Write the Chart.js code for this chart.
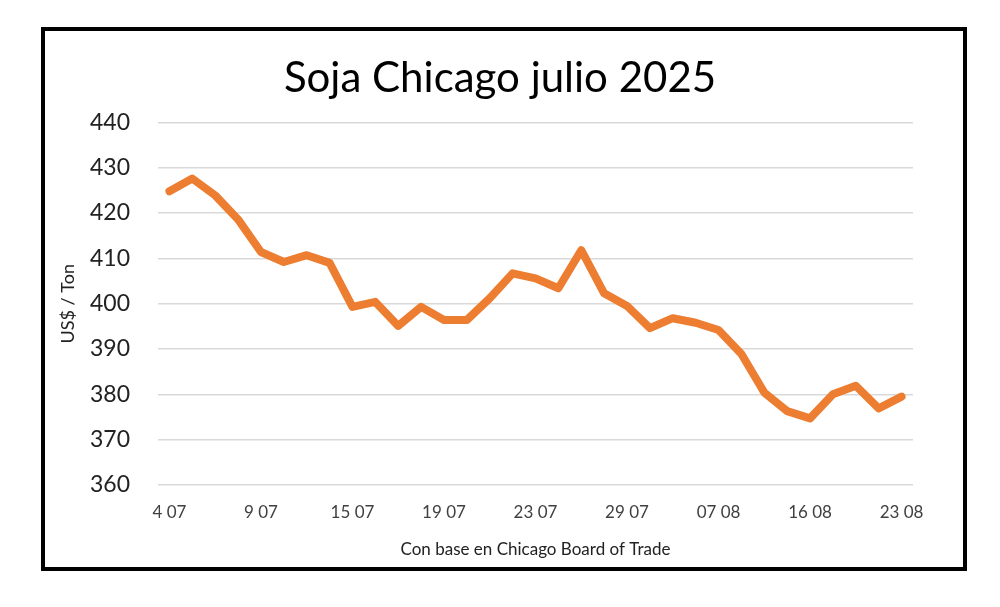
<!DOCTYPE html>
<html>
<head>
<meta charset="utf-8">
<script src="https://cdn.jsdelivr.net/npm/chart.js@4"></script>
<style>
  html, body { margin: 0; padding: 0; background: #fff; }
  #wrap { position: relative; width: 1000px; height: 607px; }
  #frame { position: absolute; left: 41px; top: 27px; width: 918px; height: 536px; border: 4px solid #000; }
  canvas { position: absolute; left: 0; top: 0; }
</style>
</head>
<body>
<div id="wrap">
  <div id="frame"></div>
  <canvas id="soja" width="1000" height="607"></canvas>
</div>
<script>
// etiquetas cada 4 ruedas, el resto en blanco
const fechas = [
  "4 07", "", "", "", "9 07", "", "", "", "15 07", "", "", "",
  "19 07", "", "", "", "23 07", "", "", "", "29 07", "", "", "",
  "07 08", "", "", "", "16 08", "", "", "", "23 08"
];
const precios = [
  424.8, 427.6, 423.9, 418.6, 411.4, 409.2, 410.7, 409.0, 399.3, 400.4, 395.1,
  399.3, 396.4, 396.4, 401.2, 406.7, 405.6, 403.4, 411.8, 402.3, 399.5, 394.6,
  396.8, 395.8, 394.2, 388.9, 380.4, 376.3, 374.7, 380.0, 381.9, 376.9, 379.5
];
const yMin = 360;
const yMax = 440;
const yStep = 10;

const fuente = "Lato, 'Open Sans', sans-serif";

new Chart(document.getElementById("soja"), {
  type: "line",
  data: {
    labels: fechas,
    datasets: [{
      label: "Soja",
      data: precios,
      borderColor: "#ED7D31",
      borderWidth: 8,
      pointRadius: 0,
      tension: 0,
      borderJoinStyle: "round",
      borderCapStyle: "round"
    }]
  },
  options: {
    responsive: false,
    animation: false,
    layout: { padding: { top: 30, left: 87, right: 87, bottom: 40 } },
    plugins: {
      legend: { display: false },
      tooltip: { enabled: false },
      title: {
        display: true,
        text: "Soja Chicago julio 2025",
        color: "#000",
        font: { family: fuente, size: 42, weight: "normal", lineHeight: 1.2 },
        padding: { top: 23, bottom: 19 }
      }
    },
    scales: {
      x: {
        offset: true,
        grid: { display: false },
        border: { display: false },
        ticks: {
          autoSkip: false,
          maxRotation: 0,
          color: "#404040",
          padding: 9,
          font: { family: fuente, size: 17 }
        },
        title: {
          display: true,
          text: "Con base en Chicago Board of Trade",
          color: "#222",
          font: { family: fuente, size: 17 },
          padding: { top: 0, bottom: 7 }
        },
        afterFit: (s) => { s.height = 82; }
      },
      y: {
        min: yMin,
        max: yMax,
        grid: { color: "#d9d9d9", lineWidth: 1.5, drawTicks: false },
        border: { display: false },
        ticks: {
          stepSize: yStep,
          color: "#222",
          padding: 28,
          font: { family: fuente, size: 23 }
        },
        title: {
          display: true,
          text: "US$ / Ton",
          color: "#222",
          font: { family: fuente, size: 18 },
          padding: { top: -30, bottom: 0 }
        },
        afterFit: (s) => { s.width = 71; }
      }
    }
  }
});
</script>
</body>
</html>
